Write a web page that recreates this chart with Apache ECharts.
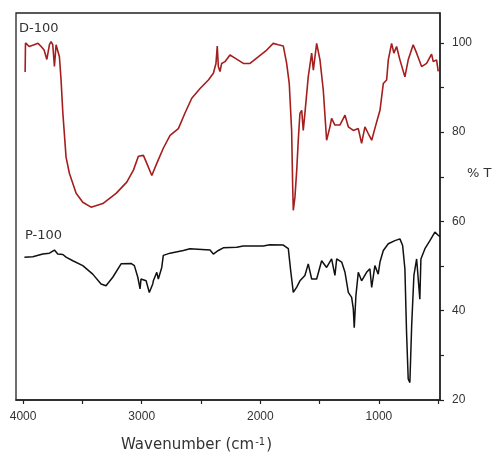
<!DOCTYPE html>
<html>
<head>
<meta charset="utf-8">
<script src="https://cdn.jsdelivr.net/npm/echarts@6/dist/echarts.min.js"></script>
<style>
  html, body { margin: 0; padding: 0; background: #fff; }
  #chart { width: 497px; height: 457px; }
</style>
</head>
<body>
<div id="chart"></div>
<script>
// FTIR spectra: wavenumber (cm-1) vs transmittance (%T)
const dWave = [3983, 3980, 3949, 3907, 3874, 3848, 3823, 3800, 3778, 3764, 3750, 3736, 3722, 3708, 3694, 3680,
  3665, 3638, 3610, 3553, 3497, 3427, 3328, 3216, 3126, 3070, 3028, 2986, 2957, 2915, 2873, 2818, 2761, 2691,
  2635, 2578, 2508, 2438, 2396, 2374, 2363, 2354, 2340, 2326, 2298, 2256, 2213, 2143, 2087, 2031, 1946, 1891,
  1849, 1806, 1778, 1756, 1736, 1727, 1722, 1708, 1693, 1680, 1666, 1651, 1638, 1624, 1596, 1567, 1553, 1525,
  1511, 1497, 1469, 1441, 1413, 1399, 1371, 1329, 1286, 1258, 1216, 1174, 1146, 1118, 1090, 1061, 1019, 991,
  963, 935, 921, 893, 874, 851, 823, 781, 753, 711, 682, 640, 598, 556, 542, 514, 500];
const dT = [93.5, 100.0, 99.2, 99.6, 99.9, 99.2, 98.4, 96.3, 99.6, 100.3, 99.6, 94.7, 99.6, 99.9, 96.9, 91.7,
  84.3, 74.4, 70.8, 66.3, 64.3, 63.2, 64.0, 66.3, 68.8, 71.5, 74.6, 74.8, 73.0, 70.3, 73.0, 76.4, 79.3, 80.8,
  84.3, 87.6, 89.8, 91.7, 93.2, 95.4, 99.3, 94.7, 93.6, 95.4, 95.8, 97.3, 96.6, 95.4, 95.4, 96.6, 98.4, 99.9,
  99.6, 99.3, 95.4, 90.9, 80.4, 67.7, 62.5, 65.5, 71.5, 78.2, 84.2, 84.9, 80.4, 84.2, 92.4, 97.7, 93.9, 99.9,
  100.3, 96.2, 89.4, 78.2, 81.2, 83.1, 81.6, 81.6, 83.8, 81.2, 80.4, 80.8, 77.5, 81.2, 79.7, 78.2, 82.3, 84.9,
  90.9, 91.7, 96.2, 99.9, 97.7, 99.2, 96.2, 92.4, 96.2, 99.6, 97.7, 94.7, 95.4, 97.5, 95.8, 96.2, 93.6];

const pWave = [3989, 3918, 3834, 3778, 3736, 3708, 3665, 3638, 3581, 3497, 3413, 3343, 3301, 3244, 3174, 3090,
  3062, 3033, 3014, 3006, 2963, 2936, 2907, 2902, 2873, 2860, 2831, 2818, 2761, 2649, 2593, 2424, 2396, 2354,
  2312, 2199, 2144, 1975, 1919, 1806, 1764, 1744, 1722, 1693, 1666, 1624, 1596, 1567, 1525, 1483, 1441, 1399,
  1371, 1356, 1314, 1286, 1258, 1230, 1216, 1208, 1194, 1174, 1146, 1104, 1076, 1061, 1034, 1006, 991, 963,
  921, 865, 823, 800, 781, 767, 753, 739, 724, 705, 682, 669, 655, 646, 612, 570, 528, 500, 486];
const pT = [52.0, 52.1, 52.7, 52.9, 53.6, 52.7, 52.6, 52.0, 51.2, 50.1, 48.2, 46.0, 45.6, 47.5, 50.5, 50.6,
  50.1, 47.5, 44.9, 47.1, 46.7, 44.1, 46.0, 46.7, 48.6, 47.1, 49.7, 52.4, 52.9, 53.5, 53.9, 53.6, 52.7, 53.5,
  54.1, 54.2, 54.5, 54.5, 54.8, 54.7, 53.9, 49.0, 44.1, 45.3, 46.7, 47.9, 50.5, 47.1, 47.1, 51.2, 49.7, 51.6,
  47.9, 51.6, 50.9, 48.6, 44.1, 43.0, 40.4, 36.2, 43.4, 48.6, 46.7, 48.6, 49.4, 45.2, 50.1, 48.2, 50.9, 53.5,
  55.0, 55.7, 56.1, 54.6, 49.4, 35.1, 24.7, 23.9, 36.6, 47.9, 51.6, 52.0, 42.6, 51.6, 53.9, 55.7, 57.6, 56.9, 56.6];

const xTickLabels = [4000, 3000, 2000, 1000];
const xTicks = [4000, 3500, 3000, 2500, 2000, 1500, 1000, 500];
const yTickLabels = [20, 40, 60, 80, 100];
const yTicks = [20, 30, 40, 50, 60, 70, 80, 90, 100];

const zip = (xs, ys) => xs.map((x, i) => [x, ys[i]]);

const axisColor = '#222';
const textColor = '#333';
const font = 'Liberation Sans, Arial, sans-serif';

const chart = echarts.init(document.getElementById('chart'), null, { renderer: 'canvas' });

chart.setOption({
  animation: false,
  backgroundColor: '#fff',
  grid: {
    left: 16, right: 57, top: 13, bottom: 57,
    show: true, borderColor: axisColor, borderWidth: 1.3
  },
  xAxis: {
    type: 'value',
    inverse: true,
    min: 485,
    max: 4060,
    axisLine: { show: true, lineStyle: { color: axisColor, width: 1.5 } },
    axisTick: { show: true, customValues: xTicks, length: 4, lineStyle: { color: axisColor, width: 1.2 } },
    axisLabel: {
      customValues: xTickLabels, margin: 11,
      formatter: v => String(v),
      color: textColor, fontSize: 12, fontFamily: font
    },
    splitLine: { show: false }
  },
  yAxis: {
    type: 'value',
    position: 'right',
    min: 20,
    max: 106.7,
    axisLine: { show: true, lineStyle: { color: axisColor, width: 1.5 } },
    axisTick: { show: true, customValues: yTicks, length: 4, lineStyle: { color: axisColor, width: 1.2 } },
    axisLabel: {
      customValues: yTickLabels, margin: 12,
      formatter: v => String(v),
      color: textColor, fontSize: 12, fontFamily: font
    },
    splitLine: { show: false }
  },
  series: [
    {
      name: 'D-100',
      type: 'line',
      data: zip(dWave, dT),
      showSymbol: false,
      lineStyle: { color: '#a51e1e', width: 1.6 },
      z: 3
    },
    {
      name: 'P-100',
      type: 'line',
      data: zip(pWave, pT),
      showSymbol: false,
      lineStyle: { color: '#111', width: 1.5 },
      z: 3
    }
  ],
  graphic: [
    {
      type: 'text', left: 19, top: 22,
      style: { text: 'D-100', fill: textColor, font: '13px DejaVu Sans, sans-serif' }
    },
    {
      type: 'text', left: 25, top: 229,
      style: { text: 'P-100', fill: textColor, font: '13px DejaVu Sans, sans-serif' }
    },
    {
      type: 'text', left: 467, top: 167,
      style: { text: '% T', fill: textColor, font: '13px DejaVu Sans, sans-serif' }
    },
    {
      type: 'text', left: 121, top: 437,
      style: {
        text: 'Wavenumber (cm{sup|-1})',
        fill: textColor,
        font: '15px DejaVu Sans, sans-serif',
        rich: {
          sup: { fontSize: 10, fontFamily: 'DejaVu Sans', verticalAlign: 'top', padding: [0, 1, 7, 1], fill: textColor }
        }
      }
    }
  ]
});
</script>
</body>
</html>
